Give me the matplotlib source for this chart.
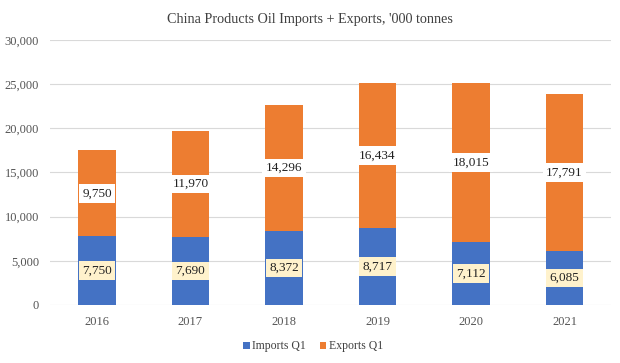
import numpy as np
import matplotlib.pyplot as plt

plt.rcParams['font.family'] = ['Liberation Serif', 'DejaVu Serif']

anos = ['2016', '2017', '2018', '2019', '2020', '2021']
imports_q1 = [7750, 7690, 8372, 8717, 7112, 6085]
exports_q1 = [9750, 11970, 14296, 16434, 18015, 17791]

AZUL = '#4472C4'
LARANJA = '#ED7D31'

fig = plt.figure(figsize=(6.2, 3.63), dpi=100)
ax = fig.add_axes([0.081, 0.16, 0.905, 0.73])

x = np.arange(len(anos))
largura = 0.4

ax.bar(x, imports_q1, width=largura, color=AZUL, label='Imports Q1', zorder=3)
ax.bar(x, exports_q1, width=largura, bottom=imports_q1, color=LARANJA, label='Exports Q1', zorder=3)

# rótulos no centro de cada segmento
for i in range(len(anos)):
    ax.text(x[i], imports_q1[i] / 2, f'{imports_q1[i]:,}', ha='center', va='center', fontsize=9.5,
            color='#222222', zorder=4,
            bbox=dict(boxstyle='square,pad=0.25', fc='#FFF2CC', ec='none'))
    ax.text(x[i], imports_q1[i] + exports_q1[i] / 2, f'{exports_q1[i]:,}', ha='center', va='center',
            fontsize=9.5, color='#222222', zorder=4,
            bbox=dict(boxstyle='square,pad=0.25', fc='white', ec='none'))

ax.set_ylim(0, 30000)
ax.set_xlim(-0.5, len(anos) - 0.5)
ax.set_yticks(np.arange(0, 30001, 5000))
ax.set_yticklabels([f'{v:,}' for v in range(0, 30001, 5000)])
ax.set_xticks(x)
ax.set_xticklabels(anos)
ax.tick_params(axis='both', length=0, labelsize=9, colors='#555555')
ax.tick_params(axis='x', pad=8)
ax.tick_params(axis='y', pad=8)
ax.grid(axis='y', color='#D9D9D9', linewidth=0.8, zorder=0)
for s in ax.spines.values():
    s.set_visible(False)

fig.suptitle("China Products Oil Imports + Exports, '000 tonnes", y=0.965, fontsize=10.2, color='#404040')

fig.legend(loc='lower center', bbox_to_anchor=(0.505, 0.0), ncol=2, frameon=False, fontsize=8.5,
           handlelength=0.55, handleheight=0.55, handletextpad=0.2, columnspacing=1.2, labelcolor='#404040')

fig.savefig('out.png', dpi=100)
